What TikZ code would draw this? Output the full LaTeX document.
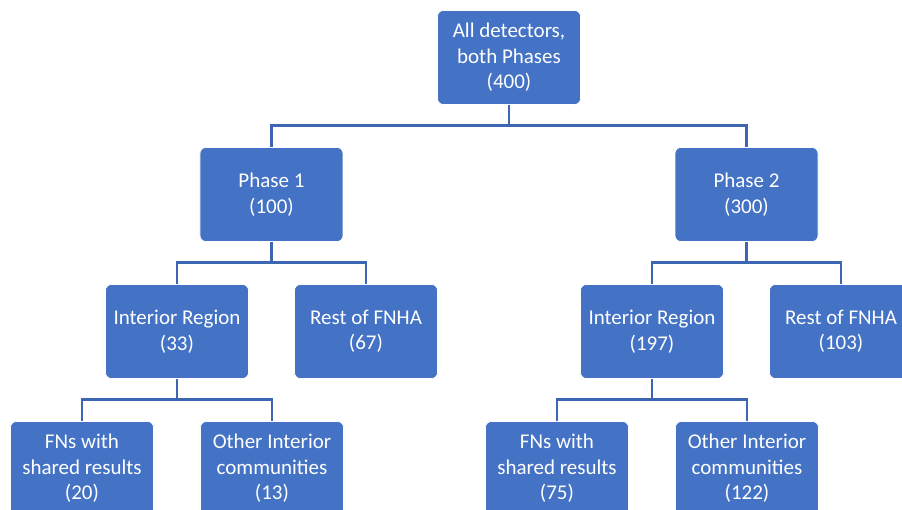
\documentclass[tikz,border=0pt]{standalone}
\usepackage{fontspec}
\setmainfont{Carlito}
\definecolor{boxblue}{HTML}{4472C4}
\definecolor{lineblue}{HTML}{3C66B1}

\begin{document}
\begin{tikzpicture}[x=1pt, y=1pt, level distance=137pt,
	level 1/.style={sibling distance=475pt},
	level 2/.style={sibling distance=189pt},
	level 3/.style={sibling distance=190pt},
	edge from parent/.style={draw=lineblue, line width=2.8pt},
	edge from parent path={(\tikzparentnode.south) -- ++(0,-21pt) -| (\tikzchildnode.north)},
	every node/.style = {shape=rectangle, rounded corners=6pt,
		draw=white, line width=0.6pt, align=center,
		fill=boxblue, text=white, minimum width=143pt, minimum height=94pt,
		font=\fontsize{21}{25.5}\selectfont}]
	\clip (-509,57.5) rectangle (393,-451.5);
	\node (all) {All detectors,\\both Phases\\(400)}
	child{ node (ph1) {Phase 1\\(100)}
			child{ node (int1) {Interior Region\\(33)}
					child{ node (fn1) {FNs with\\shared results\\(20)} }
					child{ node (oth1) {Other Interior\\communities\\(13)} }
				 }
			child{ node (rest1) {Rest of FNHA\\(67)} }
		 }
	child{ node (ph2) {Phase 2\\(300)}
			child{ node (int2) {Interior Region\\(197)}
					child{ node (fn2) {FNs with\\shared results\\(75)} }
					child{ node (oth2) {Other Interior\\communities\\(122)} }
				 }
			child{ node (rest2) {Rest of FNHA\\(103)} }
		 };

\end{tikzpicture}
\end{document}
